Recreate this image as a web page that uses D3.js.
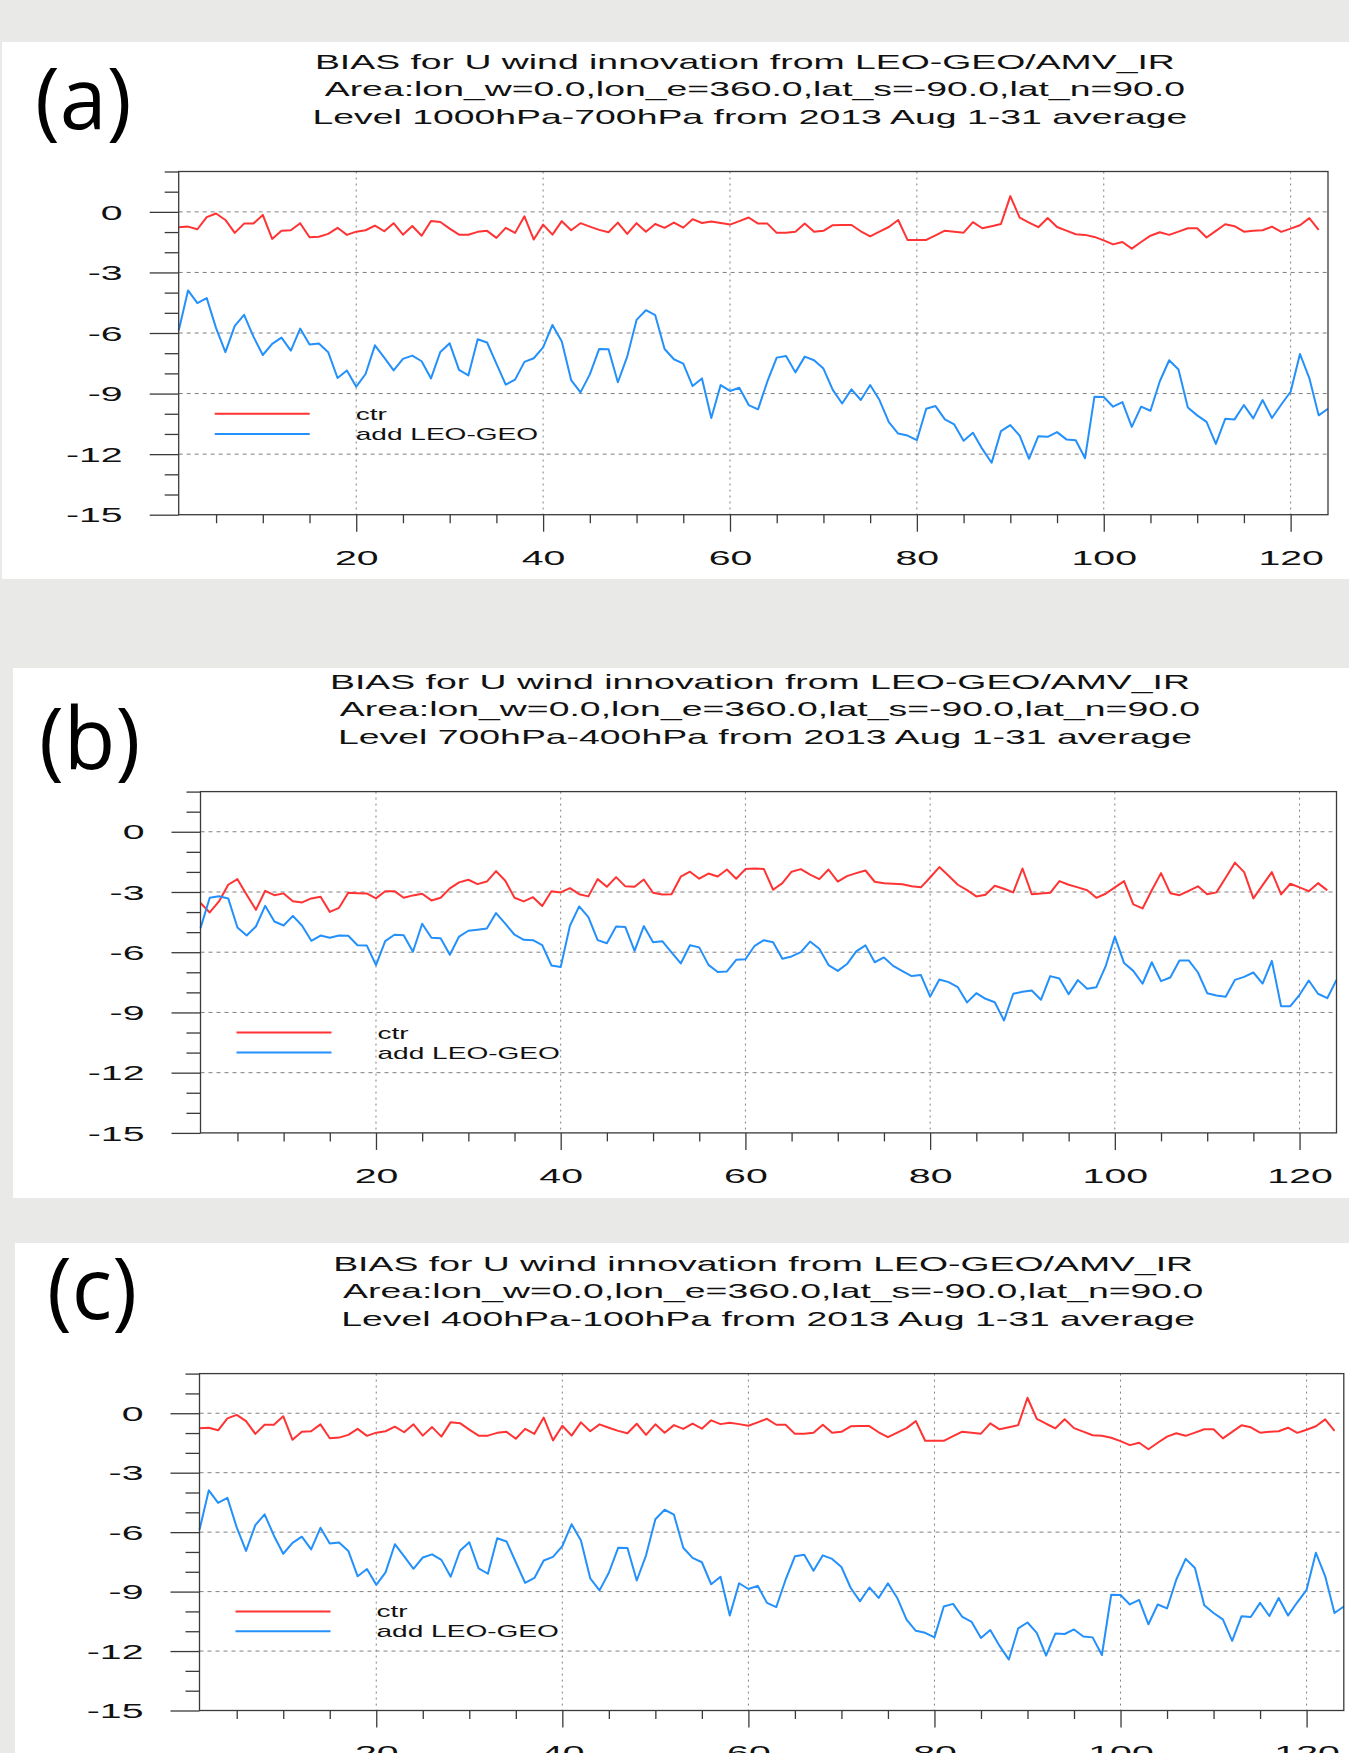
<!DOCTYPE html>
<html>
<head>
<meta charset="utf-8">
<script src="https://cdn.jsdelivr.net/npm/d3@7"></script>
<style>
  html, body { margin: 0; padding: 0; background: #e9e9e7; }
  svg { display: block; }
</style>
</head>
<body>
<svg id="chart" width="1349" height="1753"></svg>
<script>
// ---- data: U-wind innovation bias per analysis cycle (Aug 2013, 4 cycles/day) ----
const panelLetters = ["(a)", "(b)", "(c)"];
const titleLine1 = "BIAS for U wind innovation from LEO-GEO/AMV_IR";
const titleLine2 = "Area:lon_w=0.0,lon_e=360.0,lat_s=-90.0,lat_n=90.0";
const levelLines = [
  "Level 1000hPa-700hPa from 2013 Aug 1-31 average",
  "Level 700hPa-400hPa from 2013 Aug 1-31 average",
  "Level 400hPa-100hPa from 2013 Aug 1-31 average"
];
const seriesNames = ["ctr", "add LEO-GEO"];
const xTickValues = [20, 40, 60, 80, 100, 120];
const yTickValues = [0, -3, -6, -9, -12, -15];
const xDomain = [1, 124];
const yDomain = [-15, 2];

// 1000-700 hPa
const ctrLow = [-0.76,-0.73,-0.86,-0.26,-0.08,-0.40,-1.04,-0.58,-0.58,-0.15,
-1.34,-0.93,-0.91,-0.56,-1.26,-1.23,-1.09,-0.79,-1.14,-0.98,
-0.91,-0.68,-0.96,-0.56,-1.13,-0.70,-1.18,-0.45,-0.50,-0.83,
-1.13,-1.13,-0.99,-0.94,-1.29,-0.79,-1.04,-0.22,-1.37,-0.63,
-1.13,-0.46,-0.91,-0.56,-0.73,-0.89,-1.01,-0.53,-1.09,-0.56,
-0.98,-0.60,-0.79,-0.53,-0.78,-0.36,-0.55,-0.48,-0.55,-0.63,
-0.46,-0.28,-0.58,-0.58,-1.04,-1.03,-0.99,-0.58,-0.99,-0.94,
-0.66,-0.65,-0.65,-0.96,-1.21,-0.98,-0.75,-0.40,-1.39,-1.39,
-1.39,-1.16,-0.93,-0.98,-1.03,-0.51,-0.81,-0.71,-0.60,0.78,
-0.28,-0.53,-0.76,-0.30,-0.75,-0.93,-1.11,-1.14,-1.24,-1.41,
-1.61,-1.49,-1.82,-1.49,-1.18,-1.01,-1.14,-0.98,-0.81,-0.81,
-1.27,-0.94,-0.61,-0.71,-0.98,-0.94,-0.91,-0.73,-0.99,-0.83,
-0.66,-0.31,-0.89];
const leoLow = [-5.88,-3.89,-4.52,-4.27,-5.76,-6.95,-5.65,-5.10,-6.18,-7.09,
-6.54,-6.23,-6.87,-5.78,-6.57,-6.52,-6.95,-8.23,-7.86,-8.66,
-8.03,-6.61,-7.22,-7.85,-7.28,-7.12,-7.40,-8.25,-6.94,-6.51,
-7.83,-8.10,-6.31,-6.47,-7.52,-8.56,-8.31,-7.43,-7.25,-6.71,
-5.60,-6.42,-8.33,-8.94,-8.05,-6.79,-6.80,-8.44,-7.17,-5.35,
-4.87,-5.12,-6.79,-7.30,-7.52,-8.63,-8.25,-10.21,-8.58,-8.87,
-8.71,-9.57,-9.78,-8.40,-7.22,-7.14,-7.95,-7.17,-7.35,-7.76,
-8.82,-9.49,-8.79,-9.32,-8.58,-9.32,-10.41,-10.98,-11.08,-11.31,
-9.75,-9.62,-10.28,-10.53,-11.34,-10.94,-11.74,-12.43,-10.86,-10.56,
-11.08,-12.23,-11.11,-11.14,-10.91,-11.27,-11.31,-12.20,-9.16,-9.17,
-9.65,-9.42,-10.65,-9.65,-9.85,-8.39,-7.35,-7.81,-9.69,-10.08,
-10.40,-11.49,-10.25,-10.28,-9.57,-10.23,-9.32,-10.21,-9.54,-8.91,
-7.04,-8.23,-10.08,-9.75];

// 700-400 hPa
const ctrMid = [-3.55,-4.02,-3.47,-2.64,-2.36,-3.14,-3.89,-2.94,-3.16,-3.07,
-3.46,-3.52,-3.32,-3.24,-3.99,-3.79,-3.04,-3.06,-3.07,-3.32,
-2.96,-2.96,-3.29,-3.17,-3.09,-3.42,-3.29,-2.82,-2.52,-2.39,
-2.61,-2.48,-1.96,-2.44,-3.29,-3.47,-3.26,-3.70,-2.96,-3.02,
-2.81,-3.11,-3.22,-2.36,-2.74,-2.26,-2.72,-2.74,-2.38,-3.04,
-3.12,-3.11,-2.24,-1.99,-2.34,-2.08,-2.23,-1.88,-2.34,-1.86,
-1.83,-1.86,-2.89,-2.56,-1.99,-1.86,-2.14,-2.36,-1.88,-2.48,
-2.21,-2.06,-1.93,-2.49,-2.57,-2.59,-2.62,-2.71,-2.77,-2.28,
-1.76,-2.19,-2.64,-2.91,-3.22,-3.14,-2.69,-2.84,-3.02,-1.83,
-3.11,-3.07,-3.04,-2.46,-2.64,-2.77,-2.91,-3.29,-3.09,-2.77,
-2.46,-3.62,-3.82,-2.91,-2.06,-3.06,-3.16,-2.94,-2.72,-3.11,
-3.02,-2.29,-1.54,-2.01,-3.32,-2.66,-2.01,-3.12,-2.59,-2.77,
-2.96,-2.56,-2.92];
const leoMid = [-4.80,-3.29,-3.21,-3.32,-4.77,-5.17,-4.72,-3.69,-4.47,-4.67,
-4.19,-4.68,-5.43,-5.17,-5.28,-5.17,-5.18,-5.65,-5.66,-6.64,
-5.45,-5.13,-5.15,-5.98,-4.58,-5.28,-5.30,-6.13,-5.22,-4.93,
-4.88,-4.82,-4.05,-4.58,-5.13,-5.38,-5.40,-5.65,-6.66,-6.74,
-4.68,-3.72,-4.25,-5.40,-5.55,-4.72,-4.75,-5.93,-4.70,-5.50,
-5.45,-6.01,-6.56,-5.65,-5.76,-6.63,-6.99,-6.96,-6.38,-6.35,
-5.68,-5.40,-5.50,-6.33,-6.21,-6.00,-5.47,-5.83,-6.64,-6.93,
-6.59,-5.96,-5.66,-6.50,-6.26,-6.68,-6.94,-7.19,-7.14,-8.21,
-7.36,-7.49,-7.74,-8.50,-8.04,-8.32,-8.49,-9.40,-8.07,-7.97,
-7.91,-8.37,-7.19,-7.31,-8.09,-7.39,-7.82,-7.74,-6.71,-5.22,
-6.54,-6.93,-7.57,-6.50,-7.44,-7.26,-6.41,-6.41,-7.01,-8.04,
-8.16,-8.22,-7.38,-7.23,-7.01,-7.56,-6.43,-8.69,-8.69,-8.12,
-7.41,-8.07,-8.29,-7.38];

// 400-100 hPa
const ctrHigh = [-0.76,-0.73,-0.86,-0.26,-0.08,-0.40,-1.04,-0.58,-0.58,-0.15,
-1.34,-0.93,-0.91,-0.56,-1.26,-1.23,-1.09,-0.79,-1.14,-0.98,
-0.91,-0.68,-0.96,-0.56,-1.13,-0.70,-1.18,-0.45,-0.50,-0.83,
-1.13,-1.13,-0.99,-0.94,-1.29,-0.79,-1.04,-0.22,-1.37,-0.63,
-1.13,-0.46,-0.91,-0.56,-0.73,-0.89,-1.01,-0.53,-1.09,-0.56,
-0.98,-0.60,-0.79,-0.53,-0.78,-0.36,-0.55,-0.48,-0.55,-0.63,
-0.46,-0.28,-0.58,-0.58,-1.04,-1.03,-0.99,-0.58,-0.99,-0.94,
-0.66,-0.65,-0.65,-0.96,-1.21,-0.98,-0.75,-0.40,-1.39,-1.39,
-1.39,-1.16,-0.93,-0.98,-1.03,-0.51,-0.81,-0.71,-0.60,0.78,
-0.28,-0.53,-0.76,-0.30,-0.75,-0.93,-1.11,-1.14,-1.24,-1.41,
-1.61,-1.49,-1.82,-1.49,-1.18,-1.01,-1.14,-0.98,-0.81,-0.81,
-1.27,-0.94,-0.61,-0.71,-0.98,-0.94,-0.91,-0.73,-0.99,-0.83,
-0.66,-0.31,-0.89];
const leoHigh = [-5.88,-3.89,-4.52,-4.27,-5.76,-6.95,-5.65,-5.10,-6.18,-7.09,
-6.54,-6.23,-6.87,-5.78,-6.57,-6.52,-6.95,-8.23,-7.86,-8.66,
-8.03,-6.61,-7.22,-7.85,-7.28,-7.12,-7.40,-8.25,-6.94,-6.51,
-7.83,-8.10,-6.31,-6.47,-7.52,-8.56,-8.31,-7.43,-7.25,-6.71,
-5.60,-6.42,-8.33,-8.94,-8.05,-6.79,-6.80,-8.44,-7.17,-5.35,
-4.87,-5.12,-6.79,-7.30,-7.52,-8.63,-8.25,-10.21,-8.58,-8.87,
-8.71,-9.57,-9.78,-8.40,-7.22,-7.14,-7.95,-7.17,-7.35,-7.76,
-8.82,-9.49,-8.79,-9.32,-8.58,-9.32,-10.41,-10.98,-11.08,-11.31,
-9.75,-9.62,-10.28,-10.53,-11.34,-10.94,-11.74,-12.43,-10.86,-10.56,
-11.08,-12.23,-11.11,-11.14,-10.91,-11.27,-11.31,-12.20,-9.16,-9.17,
-9.65,-9.42,-10.65,-9.65,-9.85,-8.39,-7.35,-7.81,-9.69,-10.08,
-10.40,-11.49,-10.25,-10.28,-9.57,-10.23,-9.32,-10.21,-9.54,-8.91,
-7.04,-8.23,-10.08,-9.75];

// ---- styling / layout ----
const FONT = "'Liberation Sans', Arial, Helvetica, sans-serif";
const STRETCH = 1.87;            // plot text is drawn horizontally widened
const LEGEND_STRETCH = 1.65;
const CTR_COLOR = "#ff3333";
const LEO_COLOR = "#2390fb";
const AXIS_COLOR = "#3a3a3a";
const GRID_COLOR = "#808080";

const panels = [
  { card: {x: 2,  y: 42,   w: 1347, h: 537},
    frame: {left: 178.7, right: 1328.0, top: 171.5, bottom: 514.7},
    letterPos: {x: 35, y: 129},
    level: levelLines[0], ctr: ctrLow, leo: leoLow },
  { card: {x: 13, y: 668,  w: 1336, h: 530},
    frame: {left: 200.5, right: 1336.5, top: 791.6, bottom: 1132.9},
    letterPos: {x: 39, y: 769},
    level: levelLines[1], ctr: ctrMid, leo: leoMid },
  { card: {x: 15, y: 1243, w: 1334, h: 520},
    frame: {left: 199.5, right: 1343.8, top: 1373.6, bottom: 1710.5},
    letterPos: {x: 47, y: 1319},
    level: levelLines[2], ctr: ctrHigh, leo: leoHigh }
];

const svg = d3.select("#chart");
svg.append("rect").attr("width", 1349).attr("height", 1753).attr("fill", "#e9e9e7");

function wideText(g, x, y, str, size, anchor, stretch = STRETCH) {
  return g.append("text")
    .attr("transform", `translate(${x},${y}) scale(${stretch},1)`)
    .attr("text-anchor", anchor)
    .attr("font-family", FONT)
    .attr("font-size", size)
    .attr("fill", "#111")
    .text(str);
}

function restyleAxis(g) {
  g.select(".domain").remove();
  g.selectAll(".tick line").attr("stroke", AXIS_COLOR).attr("stroke-width", 1.3);
}

panels.forEach((p, k) => {
  const g = svg.append("g");
  const f = p.frame;

  g.append("rect")
    .attr("x", p.card.x).attr("y", p.card.y)
    .attr("width", p.card.w).attr("height", p.card.h)
    .attr("fill", "#ffffff");

  // panel letter
  g.append("text")
    .attr("transform", `translate(${p.letterPos.x},${p.letterPos.y}) scale(0.98,1)`)
    .attr("font-family", "'Open Sans', 'Noto Sans', sans-serif")
    .attr("font-size", 86)
    .attr("fill", "#000")
    .text(panelLetters[k]);

  const x = d3.scaleLinear().domain(xDomain).range([f.left, f.right]);
  const y = d3.scaleLinear().domain(yDomain).range([f.bottom, f.top]);
  const cx = (f.left + f.right) / 2;

  // title block
  wideText(g, cx - 8.5, f.top - 103, titleLine1, 20, "middle");
  wideText(g, cx + 1.5, f.top - 75.5, titleLine2, 20, "middle");
  wideText(g, cx - 3.5, f.top - 47.5, p.level, 20, "middle");

  // grid
  g.append("g").selectAll("line")
    .data(yTickValues.filter(v => v > yDomain[0]))
    .join("line")
    .attr("x1", f.left).attr("x2", f.right)
    .attr("y1", d => y(d)).attr("y2", d => y(d))
    .attr("stroke", GRID_COLOR).attr("stroke-width", 1)
    .attr("stroke-dasharray", "4,4");
  g.append("g").selectAll("line")
    .data(xTickValues)
    .join("line")
    .attr("x1", d => x(d)).attr("x2", d => x(d))
    .attr("y1", f.top).attr("y2", f.bottom)
    .attr("stroke", GRID_COLOR).attr("stroke-width", 1)
    .attr("stroke-dasharray", "2,4");

  // minor ticks
  const minorY = d3.range(yDomain[0], yDomain[1] + 1).filter(v => v % 3 !== 0);
  const minorX = d3.range(5, xDomain[1], 5).filter(v => v % 20 !== 0);
  g.append("g").attr("transform", `translate(${f.left},0)`)
    .call(d3.axisLeft(y).tickValues(minorY).tickSize(14).tickFormat(""))
    .call(restyleAxis);
  g.append("g").attr("transform", `translate(0,${f.bottom})`)
    .call(d3.axisBottom(x).tickValues(minorX).tickSize(8.5).tickFormat(""))
    .call(restyleAxis);

  // major ticks + labels
  const yAx = g.append("g").attr("transform", `translate(${f.left},0)`)
    .call(d3.axisLeft(y).tickValues(yTickValues).tickSize(29).tickPadding(27)
      .tickFormat(d => String(d)))
    .call(restyleAxis);
  yAx.selectAll(".tick text")
    .attr("x", null).attr("dy", "0.34em")
    .attr("transform", `translate(-56,0) scale(${STRETCH},1)`)
    .attr("font-family", FONT).attr("font-size", 21).attr("fill", "#111");

  const xAx = g.append("g").attr("transform", `translate(0,${f.bottom})`)
    .call(d3.axisBottom(x).tickValues(xTickValues).tickSize(17).tickPadding(18)
      .tickFormat(d => String(d)))
    .call(restyleAxis);
  xAx.selectAll(".tick text")
    .attr("y", null).attr("dy", "0.71em")
    .attr("transform", `translate(0,35) scale(${STRETCH},1)`)
    .attr("font-family", FONT).attr("font-size", 21).attr("fill", "#111");

  // series
  const line = d3.line().x((d, i) => x(i + 1)).y(d => y(d));
  g.append("path").datum(p.ctr).attr("d", line)
    .attr("fill", "none").attr("stroke", CTR_COLOR).attr("stroke-width", 2)
    .attr("stroke-linejoin", "round");
  g.append("path").datum(p.leo).attr("d", line)
    .attr("fill", "none").attr("stroke", LEO_COLOR).attr("stroke-width", 2)
    .attr("stroke-linejoin", "round");

  // frame
  g.append("rect")
    .attr("x", f.left).attr("y", f.top)
    .attr("width", f.right - f.left).attr("height", f.bottom - f.top)
    .attr("fill", "none").attr("stroke", AXIS_COLOR).attr("stroke-width", 1.3);

  // legend
  const legendRows = [
    { name: seriesNames[0], color: CTR_COLOR, level: -10 },
    { name: seriesNames[1], color: LEO_COLOR, level: -11 }
  ];
  legendRows.forEach(r => {
    g.append("line")
      .attr("x1", f.left + 36).attr("x2", f.left + 131)
      .attr("y1", y(r.level)).attr("y2", y(r.level))
      .attr("stroke", r.color).attr("stroke-width", 2);
    wideText(g, f.left + 177, y(r.level) + 6, r.name, 17, "start", LEGEND_STRETCH);
  });
});
</script>
</body>
</html>
